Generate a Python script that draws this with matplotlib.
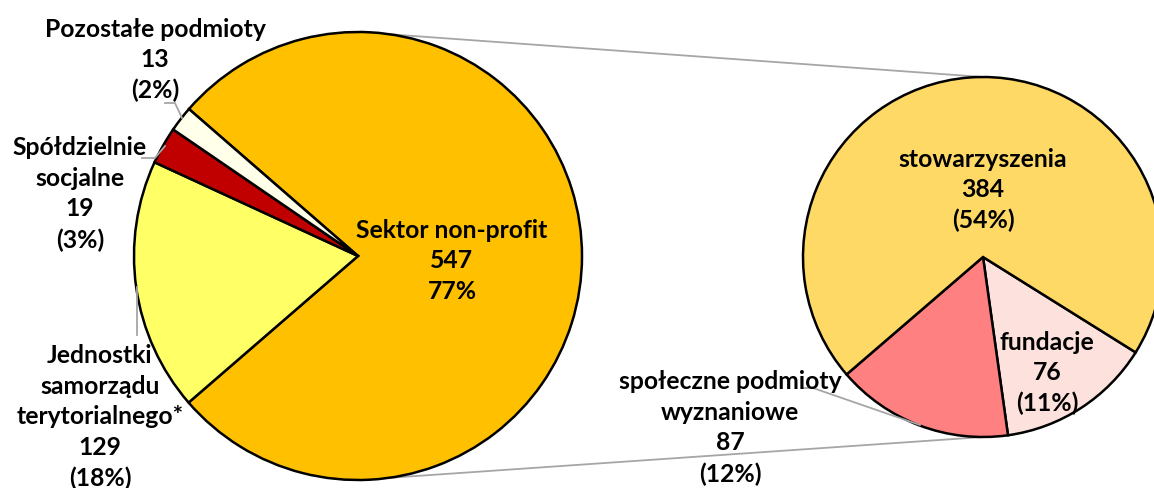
import matplotlib.pyplot as plt

# Main pie: all organisations
main_labels = ['Sektor non-profit', 'Jednostki\nsamorządu\nterytorialnego*',
               'Spółdzielnie\nsocjalne', 'Pozostałe podmioty']
main_values = [547, 129, 19, 13]
main_colors = ['#FFC000', '#FFFF66', '#C00000', '#FFFFEA']

# Secondary pie: breakdown of the non-profit sector
sub_labels = ['fundacje', 'społeczne podmioty\nwyznaniowe', 'stowarzyszenia']
sub_values = [76, 87, 384]
sub_colors = ['#FDE1DC', '#FF8080', '#FFD966']

W, H = 1154, 488
total = sum(main_values)

plt.rcParams['font.family'] = ['Lato', 'DejaVu Sans']

fig = plt.figure(figsize=(W / 100, H / 100), dpi=100)
ax = fig.add_axes([0, 0, 1, 1])


def py(y):
    # pixel row (from top) -> data y (from bottom)
    return H - y


main_c = (358, py(256))
main_r = 224
sub_c = (983, py(257))
sub_r = 180

edge = dict(edgecolor='black', linewidth=1.8)
ax.pie(main_values, colors=main_colors, startangle=139, counterclock=False,
       center=main_c, radius=main_r, wedgeprops=edge)
ax.pie(sub_values, colors=sub_colors, startangle=-32, counterclock=False,
       center=sub_c, radius=sub_r, wedgeprops=edge)

ax.set_xlim(0, W)
ax.set_ylim(0, H)
ax.set_aspect('equal')
ax.axis('off')

# connector lines between the pies
grey = '#A6A6A6'
ax.plot([main_c[0], sub_c[0]], [main_c[1] + main_r, sub_c[1] + sub_r],
        color=grey, lw=1.3, zorder=0)
ax.plot([main_c[0], sub_c[0]], [main_c[1] - main_r, sub_c[1] - sub_r],
        color=grey, lw=1.3, zorder=0)

# leader lines for outside labels
leaders = [
    ([165, 175, 182], [103, 103, 118]),
    ([142, 155, 165], [158, 158, 146]),
    ([137, 137], [335, 287]),
    ([802, 813, 920], [388, 388, 425]),
]
for xs, ys in leaders:
    ax.plot(xs, [py(y) for y in ys], color=grey, lw=1.3, zorder=3)

txt = dict(ha='center', va='center', fontsize=17.8, fontweight='bold',
           linespacing=1.4, color='black', zorder=5)


def pct(v):
    return round(100 * v / total)


main_pos = [(452, 261), (100, 417), (80, 194), (155, 60)]
for i, (lab, v) in enumerate(zip(main_labels, main_values)):
    x, y = main_pos[i]
    if i == 0:
        s = f'{lab}\n{v}\n{pct(v)}%'
    else:
        s = f'{lab}\n{v}\n({pct(v)}%)'
    ax.text(x, py(y), s, **txt)

sub_pos = [(1047, 373), (730, 428), (983, 190)]
for (x, y), lab, v in zip(sub_pos, sub_labels, sub_values):
    ax.text(x, py(y), f'{lab}\n{v}\n({pct(v)}%)', **txt)

fig.savefig('out.png', dpi=100)
